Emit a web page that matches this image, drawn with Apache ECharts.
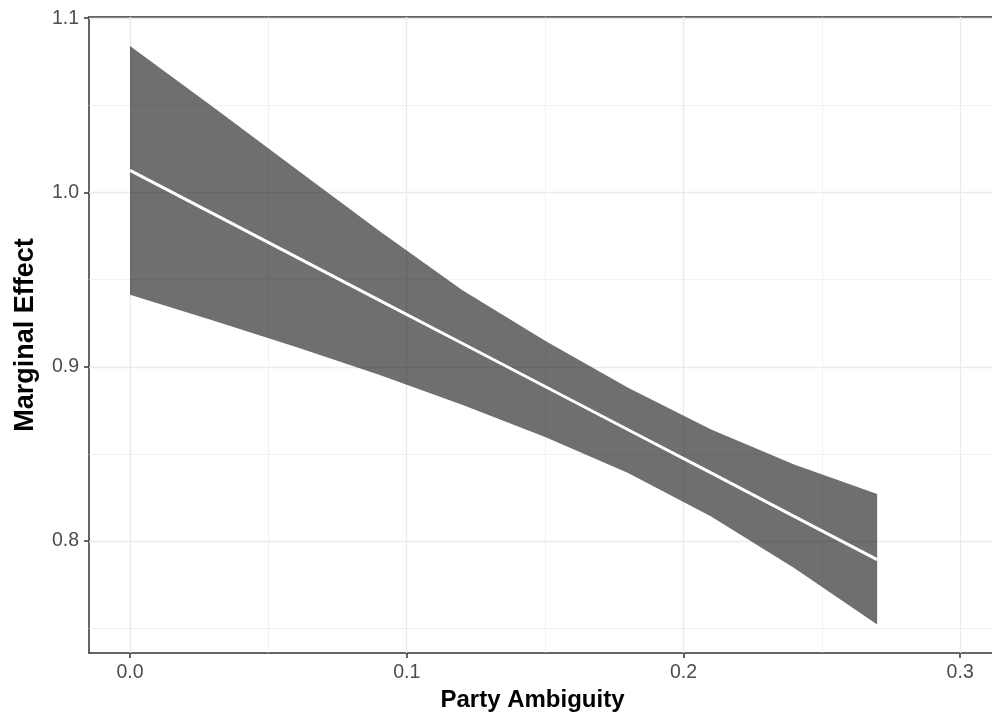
<!DOCTYPE html>
<html>
<head>
<meta charset="utf-8">
<script src="https://cdn.jsdelivr.net/npm/echarts@6/dist/echarts.min.js"></script>
<style>html,body{margin:0;padding:0;background:#fff}#c{width:992px;height:721px}</style>
</head>
<body>
<div id="c"></div>
<script>
// Party ambiguity values (x)
const partyAmbiguity = [0, 0.03, 0.06, 0.09, 0.12, 0.15, 0.18, 0.21, 0.24, 0.27];
// Marginal effect estimate
const marginalEffect = [1.0127, 0.9879, 0.9631, 0.9383, 0.9135, 0.8887, 0.8639, 0.8391, 0.8142, 0.7894];
// Confidence interval bounds
const upperBound = [1.084, 1.049, 1.0135, 0.978, 0.944, 0.915, 0.888, 0.864, 0.844, 0.827];
const lowerBound = [0.9414, 0.9265, 0.9113, 0.8955, 0.8783, 0.8597, 0.8391, 0.8141, 0.7845, 0.7521];
// Tick labels
const xTicks = [0, 0.1, 0.2, 0.3];
const yTicks = [0.8, 0.9, 1.0, 1.1];
const xMinor = [0.05, 0.15, 0.25];
const yMinor = [0.75, 0.85, 0.95, 1.05];

const FONT = 'Liberation Sans, Arial, sans-serif';
const chart = echarts.init(document.getElementById('c'), null, {renderer: 'canvas'});

const gridLines = [];
xTicks.forEach(v => gridLines.push({xAxis: v, lineStyle: {width: 1.4}}));
yTicks.forEach(v => gridLines.push({yAxis: v, lineStyle: {width: 1.4}}));
xMinor.forEach(v => gridLines.push({xAxis: v, lineStyle: {width: 0.7}}));
yMinor.forEach(v => gridLines.push({yAxis: v, lineStyle: {width: 0.7}}));

const XMIN = -0.01482, XMAX = 0.3115;
const bandData = partyAmbiguity.map((x, i) => [x, lowerBound[i], upperBound[i]]);

chart.setOption({
  animation: false,
  backgroundColor: '#ffffff',
  grid: {left: 89, right: 0, top: 17, bottom: 68, containLabel: false},
  xAxis: [{
    type: 'value', min: XMIN, max: XMAX,
    name: 'Party Ambiguity', nameLocation: 'middle', nameGap: 34,
    nameTextStyle: {fontFamily: FONT, fontSize: 24, fontWeight: 'bold', color: '#000', padding: [0, 16, 0, 0]},
    axisLine: {show: true, onZero: false, lineStyle: {color: '#333333', width: 1.5}},
    axisTick: {show: true, length: 5, customValues: xTicks, lineStyle: {color: '#333333', width: 1.5}},
    axisLabel: {customValues: xTicks, fontFamily: FONT, fontSize: 19.5, color: '#4D4D4D', margin: 10, formatter: v => v.toFixed(1)},
    splitLine: {show: false}
  }, {
    type: 'value', min: XMIN, max: XMAX, position: 'top',
    axisLine: {show: true, onZero: false, lineStyle: {color: '#333333', width: 1.5}},
    axisTick: {show: false}, axisLabel: {show: false}, splitLine: {show: false}
  }],
  yAxis: {
    type: 'value', min: 0.7358, max: 1.1007,
    name: 'Marginal Effect', nameLocation: 'middle', nameGap: 50, nameRotate: 90,
    nameTextStyle: {fontFamily: FONT, fontSize: 27, fontWeight: 'bold', color: '#000'},
    axisLine: {show: true, onZero: false, lineStyle: {color: '#333333', width: 1.5}},
    axisTick: {show: true, length: 5, customValues: yTicks, lineStyle: {color: '#333333', width: 1.5}},
    axisLabel: {customValues: yTicks, fontFamily: FONT, fontSize: 19.5, color: '#4D4D4D', margin: 10, formatter: v => v.toFixed(1)},
    splitLine: {show: false}
  },
  series: [
    {
      type: 'line', data: [], z: 1, silent: true, xAxisIndex: 0,
      markLine: {z: 1, silent: true, symbol: ['none', 'none'], label: {show: false}, animation: false,
        lineStyle: {color: '#EBEBEB', type: 'solid'}, data: gridLines}
    },
    {
      name: 'band', type: 'custom', z: 2, silent: true, xAxisIndex: 0,
      data: bandData,
      encode: {x: 0, y: [1, 2]},
      renderItem: function (params, api) {
        if (params.dataIndex !== 0) return null;
        const pts = [];
        bandData.forEach(d => pts.push(api.coord([d[0], d[2]])));
        for (let i = bandData.length - 1; i >= 0; i--) pts.push(api.coord([bandData[i][0], bandData[i][1]]));
        return {type: 'polygon', shape: {points: pts}, style: {fill: 'rgba(0,0,0,0.565)'}};
      }
    },
    {
      name: 'effect', type: 'line', z: 3, silent: true, symbol: 'none', showSymbol: false, xAxisIndex: 0,
      lineStyle: {color: '#ffffff', width: 3},
      data: partyAmbiguity.map((x, i) => [x, marginalEffect[i]])
    }
  ]
});
</script>
</body>
</html>
